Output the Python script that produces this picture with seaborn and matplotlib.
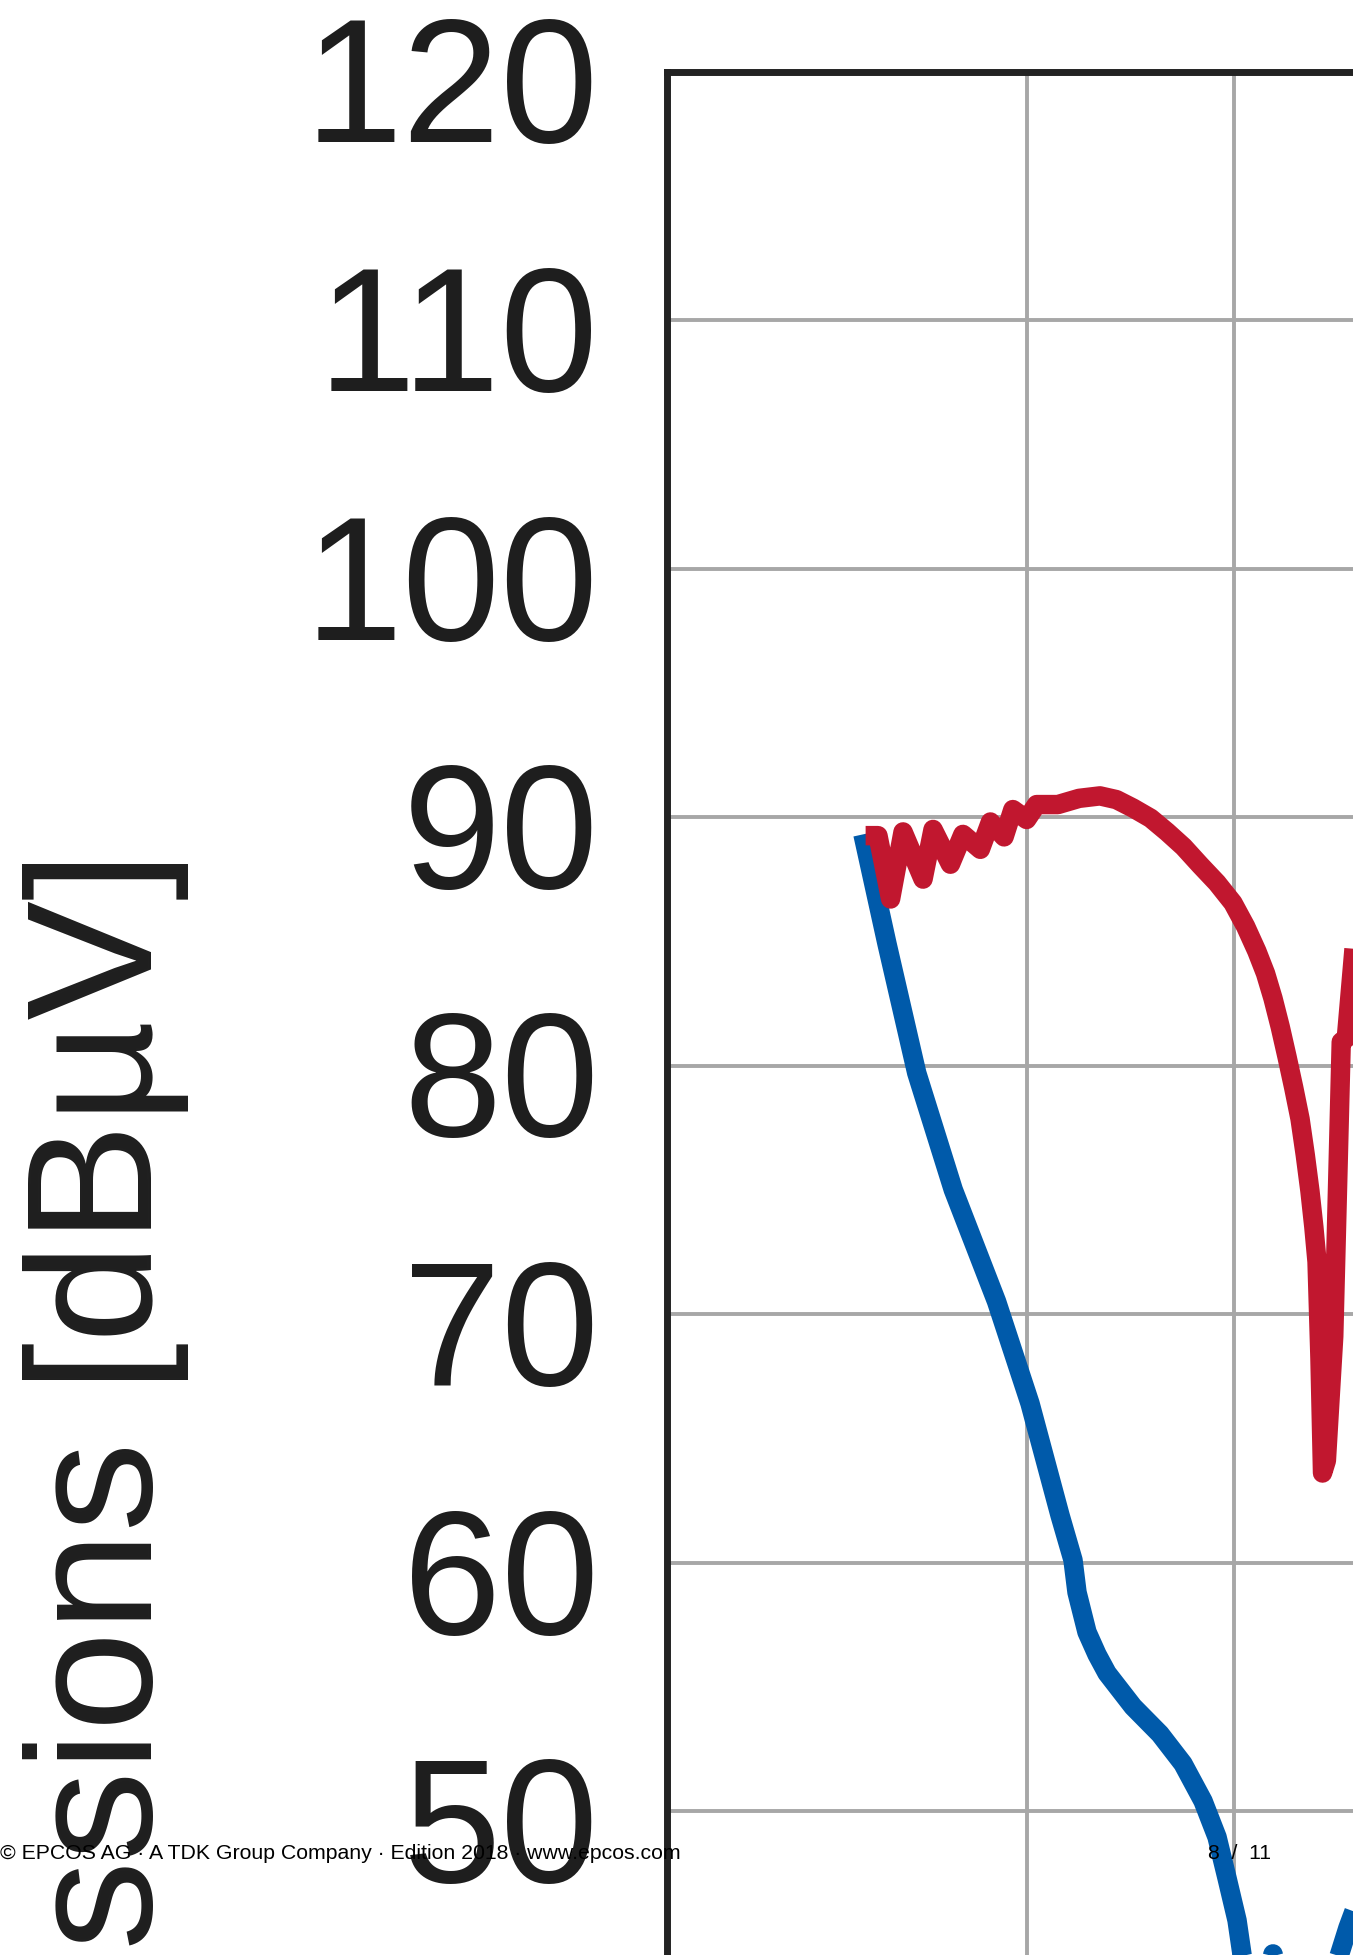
# conducted emission plot, crop of the datasheet page (red vs blue curve)

import matplotlib
matplotlib.use("Agg")
import matplotlib.pyplot as plt
import matplotlib.transforms as mtransforms
import seaborn as sns
import pandas as pd

# values: frequency in MHz (log axis), level in dBuV
red_freq = [0.2916, 0.3039, 0.3170, 0.3305, 0.3534, 0.3654, 0.3873, 0.4038,
            0.4281, 0.4428, 0.4635, 0.4773, 0.4998, 0.5168, 0.5549, 0.5957,
            0.6389, 0.675, 0.7136, 0.757, 0.7997, 0.845, 0.893, 0.945, 0.997,
            1.04, 1.080, 1.112, 1.140, 1.168, 1.195, 1.222, 1.248, 1.270,
            1.290, 1.307, 1.321, 1.334, 1.3455, 1.363, 1.397, 1.4325, 1.457,
            1.494, 1.526]
red_level = [89.25, 89.25, 86.7, 89.4, 87.5, 89.5, 88.1, 89.3,
             88.7, 89.8, 89.2, 90.3, 89.9, 90.5, 90.5, 90.75,
             90.85, 90.7, 90.36, 89.95, 89.4, 88.8, 88.07, 87.35, 86.54,
             85.6, 84.6, 83.7, 82.7, 81.55, 80.34, 79.1, 77.85, 76.4,
             74.95, 73.5, 72.1, 68.2, 63.6, 64.1, 69.1, 80.95, 81.1,
             84.6, 87.7]

blue_freq = [0.289, 0.3132, 0.346, 0.391, 0.452, 0.5055, 0.5589, 0.5837,
             0.5916, 0.6117, 0.6325, 0.6541, 0.7136, 0.781, 0.8435, 0.902,
             0.9453, 0.9774, 1.0107, 1.028, 1.0556, 1.0986, 1.140, 1.187,
             1.290, 1.3795, 1.465, 1.525]
blue_level = [89.3, 84.9, 79.7, 75.0, 70.5, 66.4, 61.9, 60.1,
              58.8, 57.2, 56.3, 55.55, 54.2, 53.1, 51.9, 50.4,
              48.95, 47.3, 45.6, 44.2, 42.8, 42.4, 44.25, 42.4,
              42.0, 43.0, 45.3, 46.6]

y_ticks = [20, 30, 40, 50, 60, 70, 80, 90, 100, 110, 120]
x_grid = [0.5, 1, 2, 5, 10, 20]

red = "#c1172f"
blue = "#005aaa"
ink = "#1e1e1e"

sns.set_style("white")
plt.rcParams['font.family'] = ['Liberation Sans', 'DejaVu Sans']

W, H = 1353, 1955
fig = plt.figure(figsize=(W / 100, H / 100), dpi=100)

# axes is much bigger than the page crop, only its top left corner shows
left = 667 / W
top = (H - 71.5) / H
width = 2.30103 * 688 / W
height = 100 * 24.85 / H
ax = fig.add_axes([left, top - height, width, height])

df_blue = pd.DataFrame({"f": blue_freq, "level": blue_level})
df_red = pd.DataFrame({"f": red_freq, "level": red_level})
sns.lineplot(data=df_blue, x="f", y="level", color=blue, linewidth=14,
             sort=False, estimator=None, ax=ax,
             solid_joinstyle="round", solid_capstyle="butt")
sns.lineplot(data=df_red, x="f", y="level", color=red, linewidth=14,
             sort=False, estimator=None, ax=ax,
             solid_joinstyle="round", solid_capstyle="butt")

ax.set_xscale("log")
ax.set_xlim(0.15, 30)
ax.set_ylim(20, 120)
ax.set_xticks(x_grid)
ax.xaxis.set_minor_locator(matplotlib.ticker.NullLocator())
ax.set_xticklabels([])
ax.set_xlabel("")
ax.set_yticks(y_ticks)
ax.set_yticklabels([str(v) for v in y_ticks])
ax.tick_params(axis="y", length=0, pad=49, labelsize=127, labelcolor=ink)
ax.tick_params(axis="x", length=0)
ax.grid(True, color="#a7a7a7", linewidth=2.8)
ax.set_axisbelow(True)
for s in ax.spines.values():
    s.set_color("#222222")
    s.set_linewidth(5)
    s.set_visible(True)

# tick numbers sit a little below their grid line in the original
shift = mtransforms.ScaledTranslation(0, -7 / 100, fig.dpi_scale_trans)
for t in ax.yaxis.get_major_ticks():
    t.label1.set_transform(t.label1.get_transform() + shift)

ax.set_ylabel("Emissions [dB\u00b5V]", fontsize=129, color=ink)
ax.yaxis.label.set_horizontalalignment("right")
ax.yaxis.label.set_verticalalignment("baseline")
ax.yaxis.set_label_coords(152 / W, (H - 850) / H, transform=fig.transFigure)

# page footer of the pdf
fig.text(0, (H - 1859) / H,
         "\u00a9 EPCOS AG \u00b7 A TDK Group Company \u00b7 Edition 2018 \u00b7 www.epcos.com",
         fontsize=15.3, color="black", ha="left", va="baseline")
fig.text(1208 / W, (H - 1859) / H, "8  /  11", fontsize=15.3,
         color="black", ha="left", va="baseline")

fig.savefig("out.png", dpi=100)
